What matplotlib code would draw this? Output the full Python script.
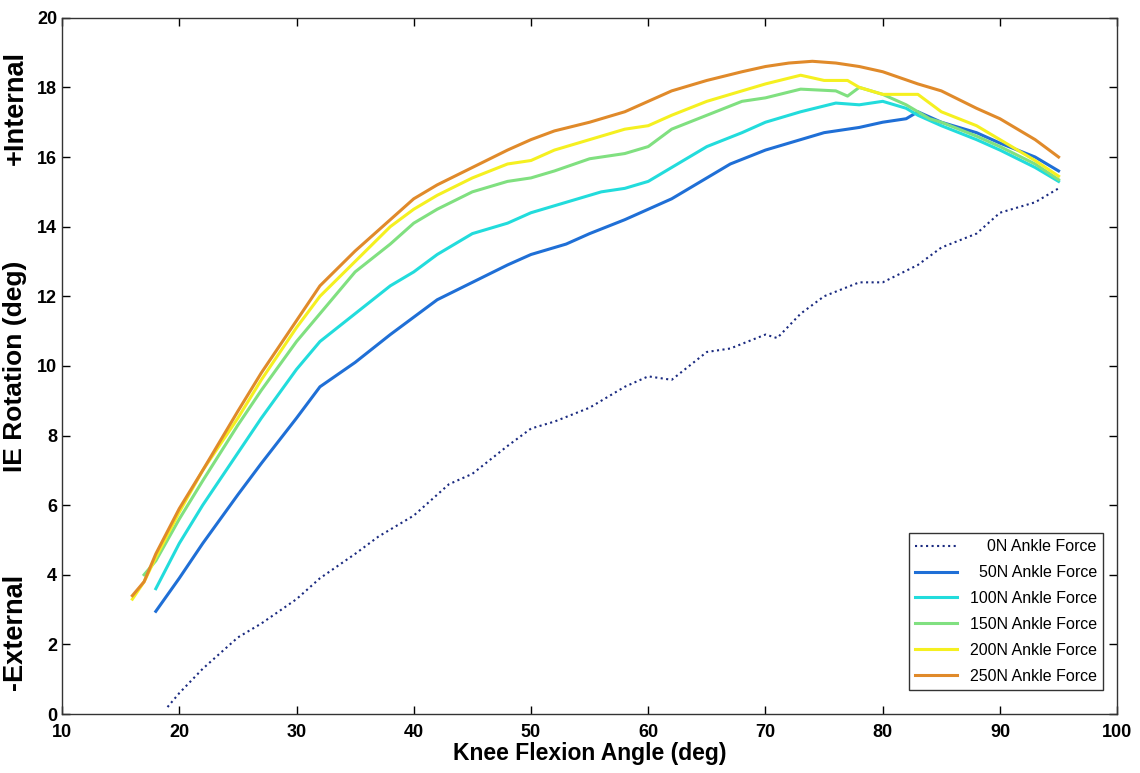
import matplotlib.pyplot as plt
import numpy as np

plt.rcParams['font.family'] = ['Liberation Sans', 'DejaVu Sans']

# data (knee flexion angle, IE rotation)
x0 = [19, 20, 22, 23, 25, 27, 30, 32, 35, 37, 40, 43, 45, 48, 50, 52, 55, 58, 60, 62, 65, 67, 70, 71, 73, 75, 78, 80, 83, 85, 88, 90, 93, 95]
y0 = [0.2, 0.6, 1.3, 1.6, 2.2, 2.6, 3.3, 3.9, 4.6, 5.1, 5.7, 6.6, 6.9, 7.7, 8.2, 8.4, 8.8, 9.4, 9.7, 9.6, 10.4, 10.5, 10.9, 10.8, 11.5, 12.0, 12.4, 12.4, 12.9, 13.4, 13.8, 14.4, 14.7, 15.1]

x50 = [18, 20, 22, 25, 27, 30, 32, 35, 38, 40, 42, 45, 48, 50, 53, 55, 58, 60, 62, 65, 67, 70, 72, 75, 78, 80, 82, 83, 85, 88, 90, 93, 95]
y50 = [2.95, 3.9, 4.9, 6.3, 7.2, 8.5, 9.4, 10.1, 10.9, 11.4, 11.9, 12.4, 12.9, 13.2, 13.5, 13.8, 14.2, 14.5, 14.8, 15.4, 15.8, 16.2, 16.4, 16.7, 16.85, 17.0, 17.1, 17.3, 17.0, 16.7, 16.4, 16.0, 15.6]

x100 = [18, 20, 22, 25, 27, 30, 32, 35, 38, 40, 42, 45, 48, 50, 53, 56, 58, 60, 62, 65, 68, 70, 73, 76, 78, 80, 82, 83, 85, 88, 90, 93, 95]
y100 = [3.6, 4.9, 6.0, 7.5, 8.5, 9.9, 10.7, 11.5, 12.3, 12.7, 13.2, 13.8, 14.1, 14.4, 14.7, 15.0, 15.1, 15.3, 15.7, 16.3, 16.7, 17.0, 17.3, 17.55, 17.5, 17.6, 17.4, 17.2, 16.9, 16.5, 16.2, 15.7, 15.3]

x150 = [17, 18, 20, 22, 25, 27, 30, 32, 35, 38, 40, 42, 45, 48, 50, 52, 55, 58, 60, 62, 65, 68, 70, 73, 76, 77, 78, 80, 82, 84, 85, 88, 90, 93, 95]
y150 = [4.0, 4.4, 5.6, 6.7, 8.3, 9.3, 10.7, 11.5, 12.7, 13.5, 14.1, 14.5, 15.0, 15.3, 15.4, 15.6, 15.95, 16.1, 16.3, 16.8, 17.2, 17.6, 17.7, 17.95, 17.9, 17.75, 18.0, 17.8, 17.5, 17.1, 17.0, 16.6, 16.3, 15.8, 15.35]

x200 = [16, 17, 18, 20, 22, 25, 27, 30, 32, 35, 38, 40, 42, 45, 48, 50, 52, 55, 58, 60, 62, 65, 68, 70, 73, 75, 77, 78, 80, 83, 85, 88, 90, 93, 95]
y200 = [3.3, 3.8, 4.5, 5.8, 7.0, 8.5, 9.6, 11.1, 12.0, 13.0, 14.0, 14.5, 14.9, 15.4, 15.8, 15.9, 16.2, 16.5, 16.8, 16.9, 17.2, 17.6, 17.9, 18.1, 18.35, 18.2, 18.2, 18.0, 17.8, 17.8, 17.3, 16.9, 16.5, 15.9, 15.45]

x250 = [16, 17, 18, 20, 22, 25, 27, 30, 32, 35, 38, 40, 42, 45, 48, 50, 52, 55, 58, 60, 62, 65, 68, 70, 72, 74, 76, 78, 80, 83, 85, 88, 90, 93, 95]
y250 = [3.4, 3.8, 4.6, 5.9, 7.0, 8.7, 9.8, 11.3, 12.3, 13.3, 14.2, 14.8, 15.2, 15.7, 16.2, 16.5, 16.75, 17.0, 17.3, 17.6, 17.9, 18.2, 18.45, 18.6, 18.7, 18.75, 18.7, 18.6, 18.45, 18.1, 17.9, 17.4, 17.1, 16.5, 16.0]

labels = ['0N Ankle Force', '50N Ankle Force', '100N Ankle Force',
          '150N Ankle Force', '200N Ankle Force', '250N Ankle Force']
colors = ['#1a2a80', '#1f6fd6', '#22dcdc', '#80e080', '#f5f020', '#e08a2a']

fig = plt.figure(figsize=(11.4, 7.73), dpi=100)
ax = fig.add_axes([0.0544, 0.0763, 0.9256, 0.9007])

ax.plot(x0, y0, ':', color=colors[0], lw=1.5, label=labels[0])
series = [(x50, y50), (x100, y100), (x150, y150), (x200, y200), (x250, y250)]
for (xs, ys), c, lab in zip(series, colors[1:], labels[1:]):
    ax.plot(xs, ys, '-', color=c, lw=2.2, label=lab)

ax.set_xlim(10, 100)
ax.set_ylim(0, 20)
ax.set_xticks(np.arange(10, 101, 10))
ax.set_yticks(np.arange(0, 21, 2))
ax.tick_params(direction='in', top=True, right=True, length=6, width=1,
               labelsize=13)
ax.tick_params(axis='x', pad=7)
for t in ax.get_xticklabels() + ax.get_yticklabels():
    t.set_fontweight('bold')
for s in ax.spines.values():
    s.set_linewidth(1)
    s.set_color('#333333')

ax.set_xlabel('Knee Flexion Angle (deg)', fontsize=16.5, fontweight='bold',
              labelpad=1)
fig.text(0.0135, 0.5 + 0.0763 / 2 - 0.023 / 2, 'IE Rotation (deg)', rotation=90,
         fontsize=19, fontweight='bold', ha='center', va='center')
fig.text(0.0135, 1 - 108 / 773, '+Internal', rotation=90, fontsize=19.5,
         fontweight='bold', ha='center', va='center')
fig.text(0.0135, 1 - 632 / 773, '-External', rotation=90, fontsize=19.5,
         fontweight='bold', ha='center', va='center')

leg = ax.legend(loc='lower right', bbox_to_anchor=(0.9867, 0.0345),
                borderaxespad=0, fontsize=11.5, frameon=True, fancybox=False,
                edgecolor='black', handlelength=2.6, labelspacing=0.68,
                handletextpad=0.8, borderpad=0.4)
leg.get_frame().set_linewidth(1)

# right-align legend text like the original
fig.canvas.draw()
renderer = fig.canvas.get_renderer()
texts = leg.get_texts()
widths = [t.get_window_extent(renderer).width for t in texts]
maxw = max(widths)
for t, w in zip(texts, widths):
    t.set_position((maxw - w, 0))

fig.savefig('out.png', dpi=100)
